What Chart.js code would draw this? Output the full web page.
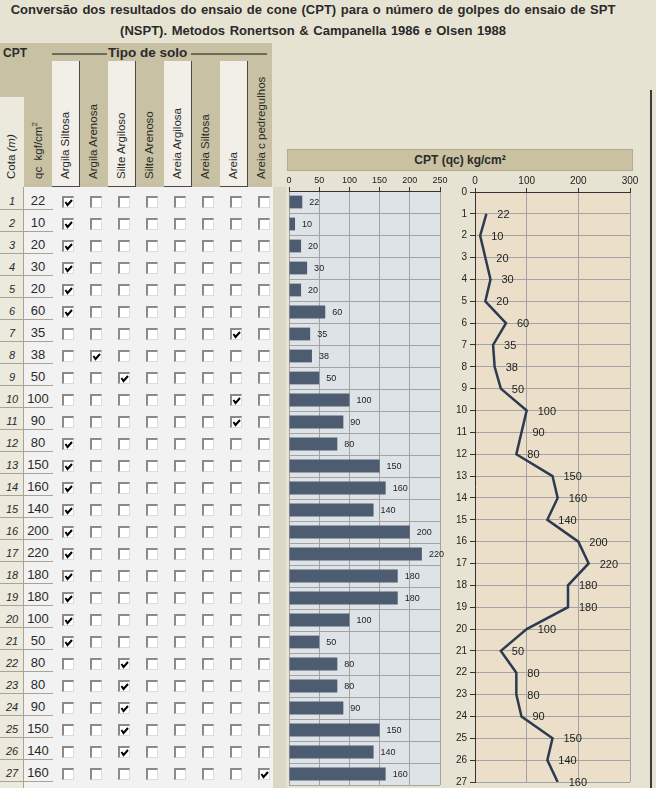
<!DOCTYPE html>
<html>
<head>
<meta charset="utf-8">
<script src="https://cdn.jsdelivr.net/npm/chart.js@4/dist/chart.umd.min.js"></script>
<style>
body{margin:0;width:656px;height:788px;overflow:hidden;background:#E7E3D3;position:relative;font-family:"Liberation Sans",Arial,sans-serif;color:#2a2a2a}
.abs{position:absolute}
#title{left:0;top:-1px;width:626px;text-align:center;font-weight:bold;font-size:13px;line-height:21px;word-spacing:1px}
#head{left:0;top:43px;width:272px;height:144px;background:#C8C1A3}
#cptLbl{left:3px;top:46px;font-weight:bold;font-size:12px}
#tipo{left:108px;top:45px;font-weight:bold;font-size:13.5px}
.hline{height:2px;background:#6E6A5C;top:53px}
.lightcol{background:#F1EFE7;border-right:1px solid #4a4a4a;border-bottom:1px solid #4a4a4a;box-sizing:border-box}
.vtxt{position:absolute;white-space:nowrap;font-size:11.5px;transform-origin:0 0;transform:rotate(-90deg)}
#body{left:24px;top:187px;width:249px;height:601px;background:#F2F2F2}
#cotaCol{left:0;top:187px;width:24px;height:601px;background:#ECE9DD;border-right:1px solid #A8A393;box-sizing:border-box}
#strip{left:273px;top:187px;width:13px;height:601px;background:#DCD8C7}
.cell{position:absolute;font-size:11px;box-sizing:border-box}
.rline{position:absolute;left:0;width:53px;height:1px;background:#A8A393}
.cb{position:absolute;width:12px;height:12px;box-sizing:border-box;background:#fff;border-top:2px solid #8a8a8a;border-left:2px solid #8a8a8a;border-right:1px solid #dcdcdc;border-bottom:1px solid #dcdcdc}
.cb svg{position:absolute;left:0;top:0}
#chartTitle{left:287px;top:149px;width:346px;height:22px;background:#C9C1A1;border:1px solid #B3AB8C;box-sizing:border-box;text-align:center;font-weight:bold;font-size:12px;line-height:20px}
#frame{left:650px;top:90px;width:2px;height:698px;background:#3a3a3a}
#barCanvasBox{left:274px;top:171px;width:180px;height:617px}
#lineCanvasBox{left:440px;top:172px;width:200px;height:619px}
canvas{display:block}
</style>
</head>
<body>
<div id="title" class="abs">Conversão dos resultados do ensaio de cone (CPT) para o número de golpes do ensaio de SPT<br>(NSPT). Metodos Ronertson &amp; Campanella 1986 e Olsen 1988</div>
<div id="head" class="abs"></div>
<div id="cptLbl" class="abs">CPT</div>
<div class="abs hline" style="left:52px;width:55px"></div>
<div id="tipo" class="abs">Tipo de solo</div>
<div class="abs hline" style="left:191px;width:76px"></div>
<div id="cotaCol" class="abs"></div>
<div id="body" class="abs"></div>
<div id="strip" class="abs"></div>
<div id="chartTitle" class="abs">CPT (qc) kg/cm²</div>
<div id="frame" class="abs"></div>
<div id="barCanvasBox" class="abs"><canvas id="barChart" width="180" height="617"></canvas></div>
<div id="lineCanvasBox" class="abs"><canvas id="lineChart" width="200" height="619"></canvas></div>
<script>
const cotas = [1,2,3,4,5,6,7,8,9,10,11,12,13,14,15,16,17,18,19,20,21,22,23,24,25,26,27];
const qcValues = [22,10,20,30,20,60,35,38,50,100,90,80,150,160,140,200,220,180,180,100,50,80,80,90,150,140,160];
const soilTypes = ['Argila Siltosa','Argila Arenosa','Silte Argiloso','Silte Arenoso','Areia Argilosa','Areia Siltosa','Areia','Areia c pedregulhos'];
// index of the ticked soil type for each cota
const soilChecked = [0,0,0,0,0,0,6,1,2,6,6,0,0,0,0,0,0,0,0,0,0,2,2,2,2,2,7];
const barTicks = [0,50,100,150,200,250];
const lineTicks = [0,100,200,300];

const rowTop = 187, rowH = 22, colX0 = 52, colW = 28;

// cabecalho
for (let j = 0; j < soilTypes.length; j++) {
  const x = colX0 + j * colW;
  if (j % 2 == 0) {
    const d = document.createElement('div');
    d.className = 'abs lightcol';
    d.style.cssText = 'left:' + x + 'px;top:61px;width:' + colW + 'px;height:126px';
    document.body.appendChild(d);
  }
  const t = document.createElement('div');
  t.className = 'vtxt';
  t.textContent = soilTypes[j];
  t.style.left = (x + 7) + 'px';
  t.style.top = '179px';
  document.body.appendChild(t);
}
const cotaBox = document.createElement('div');
cotaBox.className = 'abs';
cotaBox.style.cssText = 'left:0;top:97px;width:24px;height:90px;background:#ECE9DD';
document.body.appendChild(cotaBox);
const vt1 = document.createElement('div');
vt1.className = 'vtxt';
vt1.innerHTML = 'Cota <i>(m)</i>';
vt1.style.left = '5px'; vt1.style.top = '179px';
document.body.appendChild(vt1);
const vt2 = document.createElement('div');
vt2.className = 'vtxt';
vt2.innerHTML = 'qc&nbsp; kgf/cm<sup style="font-size:8px">2</sup>';
vt2.style.left = '30px'; vt2.style.top = '179px';
document.body.appendChild(vt2);

// linhas da tabela
const tick = '<svg width="10" height="10"><polyline points="1.5,4 3.5,7 8,2" fill="none" stroke="#000" stroke-width="2"/></svg>';
for (let i = 0; i < cotas.length; i++) {
  const top = rowTop + i * rowH;
  const c = document.createElement('div');
  c.className = 'cell';
  c.style.cssText = 'left:0;top:' + (top + 8) + 'px;width:24px;text-align:center;font-style:italic;font-size:11px';
  c.textContent = cotas[i];
  document.body.appendChild(c);
  const q = document.createElement('div');
  q.className = 'cell';
  q.style.cssText = 'left:24px;top:' + (top + 6) + 'px;width:28px;text-align:center;font-size:13px';
  q.textContent = qcValues[i];
  document.body.appendChild(q);
  const l = document.createElement('div');
  l.className = 'rline';
  l.style.top = (top + rowH) + 'px';
  document.body.appendChild(l);
  for (let j = 0; j < soilTypes.length; j++) {
    const b = document.createElement('div');
    b.className = 'cb';
    b.style.left = (colX0 + j * colW + 10) + 'px';
    b.style.top = (top + 9) + 'px';
    if (soilChecked[i] == j) b.innerHTML = tick;
    document.body.appendChild(b);
  }
}

// fundo da area do grafico
const areaBg = {
  id: 'areaBg',
  beforeDraw(chart, args, opts) {
    const a = chart.chartArea, ctx = chart.ctx;
    ctx.save();
    ctx.fillStyle = opts.color;
    ctx.fillRect(a.left, a.top, a.right - a.left, a.bottom - a.top);
    ctx.restore();
  }
};
// rotulos de valores
const valueLabels = {
  id: 'valueLabels',
  afterDatasetsDraw(chart, args, opts) {
    const ctx = chart.ctx;
    const meta = chart.getDatasetMeta(0);
    ctx.save();
    ctx.font = opts.size + 'px "Liberation Sans", Arial, sans-serif';
    ctx.fillStyle = '#222';
    ctx.textAlign = 'left';
    ctx.textBaseline = 'middle';
    meta.data.forEach((el, i) => {
      ctx.fillText(String(qcValues[i]), el.x + opts.dx, el.y + 1);
    });
    ctx.restore();
  }
};

Chart.defaults.font.family = '"Liberation Sans", Arial, sans-serif';
Chart.defaults.color = '#222';

new Chart(document.getElementById('barChart'), {
  type: 'bar',
  data: {
    labels: cotas,
    datasets: [{
      data: qcValues,
      backgroundColor: '#4E5C71',
      barPercentage: 0.58,
      categoryPercentage: 1
    }]
  },
  options: {
    indexAxis: 'y',
    responsive: false,
    animation: false,
    events: [],
    layout: {padding: {left: 15, right: 14, top: 0, bottom: 3}},
    plugins: {
      legend: {display: false},
      tooltip: {enabled: false},
      areaBg: {color: '#DEE3E8'},
      valueLabels: {size: 9, dx: 7}
    },
    scales: {
      x: {
        position: 'top', min: 0, max: 250,
        afterBuildTicks: s => { s.ticks = barTicks.map(v => ({value: v})); },
        afterFit: s => { s.height = 20; },
        ticks: {font: {size: 9}, padding: 1},
        grid: {color: '#A3A3A3', tickColor: '#333', tickLength: 4},
        border: {color: '#333'}
      },
      y: {
        ticks: {display: false},
        afterFit: s => { s.width = 0; },
        grid: {color: '#A3A3A3', drawTicks: false},
        border: {display: false}
      }
    }
  },
  plugins: [areaBg, valueLabels]
});

new Chart(document.getElementById('lineChart'), {
  type: 'line',
  data: {
    datasets: [{
      data: cotas.map((c, i) => ({x: qcValues[i], y: c})),
      borderColor: '#2C3B50',
      borderWidth: 2.5,
      pointRadius: 0,
      tension: 0
    }]
  },
  options: {
    responsive: false,
    animation: false,
    events: [],
    layout: {padding: {left: 0, right: 10, top: 0, bottom: 0}},
    plugins: {
      legend: {display: false},
      tooltip: {enabled: false},
      areaBg: {color: '#ECDFCA'},
      valueLabels: {size: 11, dx: 11}
    },
    scales: {
      x: {
        type: 'linear', position: 'top', min: 0, max: 300,
        afterBuildTicks: s => { s.ticks = lineTicks.map(v => ({value: v})); },
        afterFit: s => { s.height = 20; },
        ticks: {font: {size: 10}, padding: 1},
        grid: {color: '#A3A3A3', tickColor: '#333', tickLength: 4},
        border: {color: '#333'}
      },
      y: {
        type: 'linear', reverse: true, min: 0, max: 27,
        ticks: {stepSize: 1, autoSkip: false, font: {size: 10}, padding: 3},
        afterFit: s => { s.width = 35; },
        grid: {color: '#A3A3A3', tickColor: '#333', tickLength: 5},
        border: {color: '#333'}
      }
    }
  },
  plugins: [areaBg, valueLabels]
});
</script>
</body>
</html>
